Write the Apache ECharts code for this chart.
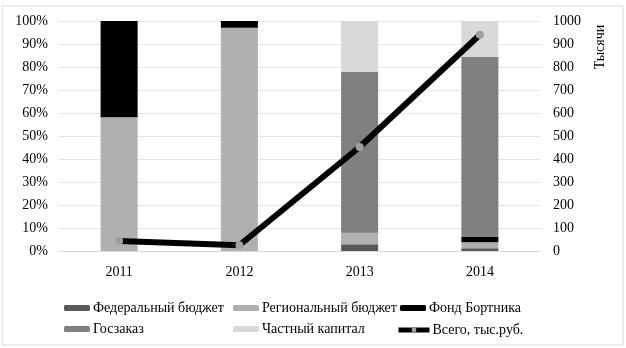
<!DOCTYPE html>
<html>
<head>
<meta charset="utf-8">
<script src="https://cdn.jsdelivr.net/npm/echarts@6/dist/echarts.min.js"></script>
<style>html,body{margin:0;padding:0;background:#fff;}#c{width:626px;height:348px;}</style>
</head>
<body>
<div id="c"></div>
<script>
var categories = ['2011', '2012', '2013', '2014'];
var federal = [0, 0, 2.9, 1.2];
var regional = [58.1, 97.1, 5.2, 2.6];
var bortnik = [41.9, 2.9, 0.4, 2.5];
var goszakaz = [0, 0, 69.3, 78.0];
var privateCap = [0, 0, 22.2, 15.7];
var total = [43, 25, 452, 940];
var leftTicks = ['0%', '10%', '20%', '30%', '40%', '50%', '60%', '70%', '80%', '90%', '100%'];
var rightTitle = 'Тысячи';

var FONT = 'Liberation Serif, DejaVu Serif, serif';
var chart = echarts.init(document.getElementById('c'), null, {renderer: 'canvas'});

function barSeries(name, data, color) {
  return {
    name: name, type: 'bar', stack: 's', data: data, barWidth: 37,
    itemStyle: {color: color}, yAxisIndex: 0, emphasis: {disabled: true}
  };
}
var legendText = {fontFamily: FONT, fontSize: 14, color: '#000', padding: [0, 0, 0, -2]};
function legendCol(left, top, names, w) {
  return {
    orient: 'vertical', left: left, top: top, itemWidth: w || 26, itemHeight: 6,
    itemGap: 7, textStyle: legendText, data: names, selectedMode: false,
    padding: 0
  };
}

chart.setOption({
  animation: false,
  textStyle: {fontFamily: FONT},
  grid: {left: 59, right: 86, top: 21, bottom: 97},
  graphic: [
    {type: 'rect', shape: {x: 2, y: 6, width: 621, height: 339},
     style: {fill: 'none', stroke: '#d9d9d9', lineWidth: 1}, z: -10},
    {type: 'text', x: 600, y: 47, rotation: Math.PI / 2,
     style: {text: rightTitle, fontFamily: FONT, fontSize: 14, fill: '#000',
             align: 'center', verticalAlign: 'middle'}}
  ],
  legend: [
    legendCol(64, 301, ['Федеральный бюджет', 'Госзаказ']),
    legendCol(233, 301, ['Региональный бюджет', 'Частный капитал']),
    legendCol(400, 301, ['Фонд Бортника']),
    legendCol(396, 323, [{name: 'Всего, тыс.руб.', lineStyle: {width: 5, color: '#000'},
       itemStyle: {color: '#a0a0a0'}}], 31)
  ],
  xAxis: {
    type: 'category', data: categories,
    axisLine: {show: true, lineStyle: {color: '#d9d9d9'}},
    axisTick: {show: false},
    axisLabel: {fontFamily: FONT, fontSize: 14, color: '#000', margin: 14}
  },
  yAxis: [
    {type: 'value', min: 0, max: 100, interval: 10,
     axisLine: {show: false}, axisTick: {show: false},
     splitLine: {lineStyle: {color: '#e6e6e6', width: 1}},
     axisLabel: {fontFamily: FONT, fontSize: 14, color: '#000', margin: 11,
                 formatter: function (v) { return leftTicks[Math.round(v / 10)]; }}},
    {type: 'value', min: 0, max: 1000, interval: 100, position: 'right',
     axisLine: {show: false}, axisTick: {show: false}, splitLine: {show: false},
     axisLabel: {fontFamily: FONT, fontSize: 14, color: '#000', margin: 13,
                 formatter: function (v) { return String(v); }}}
  ],
  series: [
    barSeries('Федеральный бюджет', federal, '#595959'),
    barSeries('Региональный бюджет', regional, '#b0b0b0'),
    barSeries('Фонд Бортника', bortnik, '#000000'),
    barSeries('Госзаказ', goszakaz, '#808080'),
    barSeries('Частный капитал', privateCap, '#d9d9d9'),
    {name: 'Всего, тыс.руб.', type: 'line', yAxisIndex: 1, data: total,
     symbol: 'circle', symbolSize: 8, showSymbol: true,
     lineStyle: {color: '#000', width: 6},
     itemStyle: {color: '#a0a0a0'}, z: 5, emphasis: {disabled: true}}
  ]
});
</script>
</body>
</html>
